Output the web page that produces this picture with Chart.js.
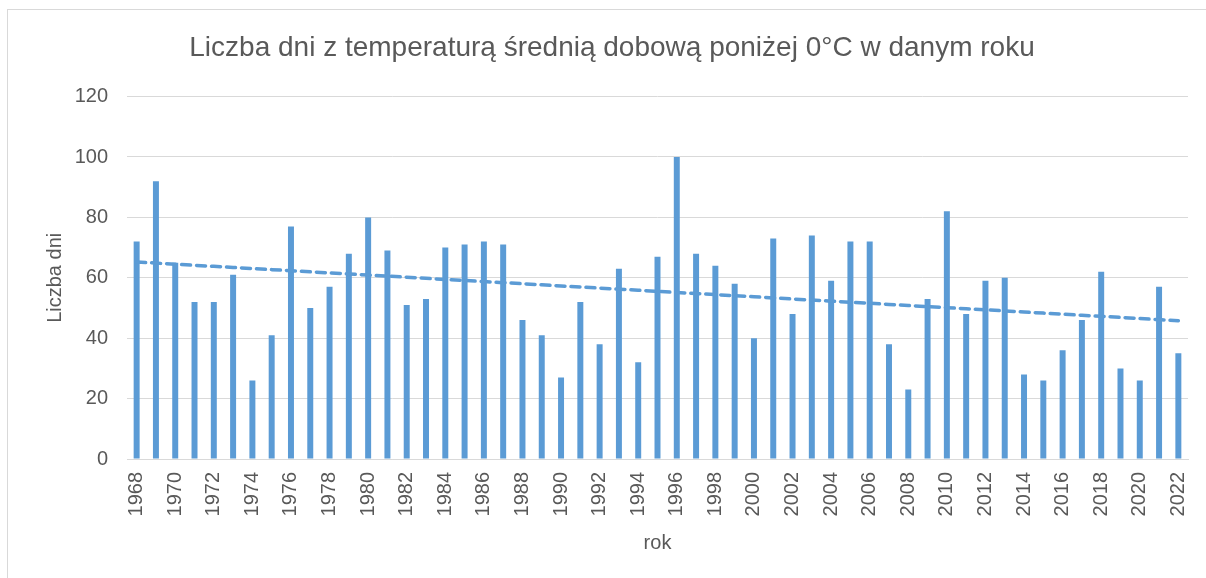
<!DOCTYPE html>
<html>
<head>
<meta charset="utf-8">
<script src="https://cdn.jsdelivr.net/npm/chart.js@4"></script>
<style>
  html, body { margin: 0; padding: 0; background: #ffffff; overflow: hidden; }
  #wrap { position: relative; width: 1206px; height: 578px; }
  #frame {
    position: absolute; left: 7px; top: 9px; width: 1210px; height: 600px;
    border: 1px solid #d9d9d9; pointer-events: none;
  }
  canvas { position: absolute; left: 0; top: 0; }
</style>
</head>
<body>
<div id="wrap">
  <canvas id="chart" width="1206" height="578"></canvas>
  <div id="frame"></div>
</div>
<script>
// lata
const years = [];
for (let y = 1968; y <= 2022; y++) years.push(String(y));

// liczba dni ze średnią dobową < 0°C
const frostDays = [
    72, 92, 65, 52, 52, 61, 26, 41, 77, 50,
    57, 68, 80, 69, 51, 53, 70, 71, 72, 71,
    46, 41, 27, 52, 38, 63, 32, 67, 100, 68,
    64, 58, 40, 73, 48, 74, 59, 72, 72, 38,
    23, 53, 82, 48, 59, 60, 28, 26, 36, 46,
    62, 30, 26, 57, 35
];

const yTicks = [0, 20, 40, 60, 80, 100, 120];

const TEXT = '#595959';
const BLUE = '#5b9bd5';
const GRID = '#d9d9d9';
const FONT = '"Liberation Sans", Arial, sans-serif';

// liniowa linia trendu (jak w Excelu) - regresja z danych
function linearTrend(values) {
    const n = values.length;
    let sx = 0, sy = 0, sxy = 0, sxx = 0;
    values.forEach((v, i) => {
        sx += i; sy += v; sxy += i * v; sxx += i * i;
    });
    const b = (n * sxy - sx * sy) / (n * sxx - sx * sx);
    const a = (sy - b * sx) / n;
    return values.map((_, i) => a + b * i);
}

const trend = linearTrend(frostDays);

const ctx = document.getElementById('chart').getContext('2d');

new Chart(ctx, {
    type: 'bar',
    data: {
        labels: years,
        datasets: [
            {
                type: 'line',
                label: 'Liniowy trend',
                data: trend,
                borderColor: BLUE,
                borderWidth: 3.5,
                borderDash: [9, 6],
                borderCapStyle: 'round',
                pointRadius: 0,
                fill: false,
                order: 0
            },
            {
                label: 'Liczba dni',
                data: frostDays,
                backgroundColor: BLUE,
                borderWidth: 0,
                categoryPercentage: 1,
                barPercentage: 0.31,
                order: 1
            }
        ]
    },
    options: {
        responsive: false,
        animation: false,
        layout: { padding: { left: 36, right: 18, top: 0, bottom: 0 } },
        plugins: {
            legend: { display: false },
            tooltip: { enabled: false },
            title: {
                display: true,
                text: 'Liczba dni z temperaturą średnią dobową poniżej 0°C w danym roku',
                color: TEXT,
                font: { family: FONT, size: 28, weight: 'normal' },
                padding: { top: 31, bottom: 32 }
            }
        },
        scales: {
            x: {
                grid: { display: false, drawTicks: false },
                border: { display: true, color: GRID, width: 1 },
                ticks: {
                    autoSkip: false,
                    minRotation: 90,
                    maxRotation: 90,
                    padding: 13,
                    color: TEXT,
                    font: { family: FONT, size: 20 },
                    callback: function (value, index) {
                        return index % 2 === 0 ? this.getLabelForValue(value) : '';
                    }
                },
                title: {
                    display: true,
                    text: 'rok',
                    color: TEXT,
                    font: { family: FONT, size: 20 },
                    padding: { top: 0, bottom: 23 }
                },
                afterFit: (scale) => {
                    scale.height = 119;
                    scale.paddingLeft = 0;
                    scale.paddingRight = 0;
                }
            },
            y: {
                min: 0,
                max: 120,
                grid: { color: GRID, lineWidth: 1, drawTicks: false },
                border: { display: false },
                afterBuildTicks: (scale) => {
                    scale.ticks = yTicks.map(v => ({ value: v }));
                },
                ticks: {
                    padding: 19,
                    color: TEXT,
                    font: { family: FONT, size: 20 }
                },
                title: {
                    display: true,
                    text: 'Liczba dni',
                    color: TEXT,
                    font: { family: FONT, size: 20 },
                    padding: { top: 7, bottom: 0 }
                },
                afterFit: (scale) => { scale.width = 91; }
            }
        }
    }
});
</script>
</body>
</html>
